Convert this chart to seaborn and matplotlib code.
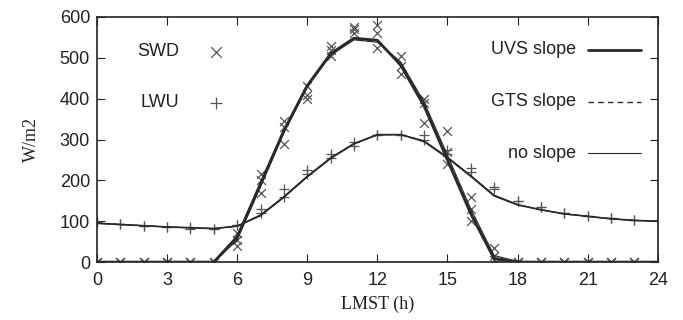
import numpy as np
import pandas as pd
import matplotlib
matplotlib.use("Agg")
import matplotlib.pyplot as plt
import seaborn as sns

hours = list(range(25))

# model curves (W/m2), one value per hour 0..24
swd_uvs = [0, 0, 0, 0, 0, 0, 62, 192, 322, 432, 510, 548, 543, 482, 382, 250, 118, 8, 0, 0, 0, 0, 0, 0, 0]
swd_gts = [0, 0, 0, 0, 0, 0, 58, 188, 318, 430, 508, 546, 540, 486, 388, 256, 124, 12, 0, 0, 0, 0, 0, 0, 0]
swd_none = [0, 0, 0, 0, 0, 0, 54, 184, 316, 428, 506, 544, 538, 490, 392, 262, 130, 16, 2, 0, 0, 0, 0, 0, 0]
lwu_uvs = [95, 92, 89, 86, 84, 82, 88, 115, 160, 210, 255, 290, 312, 312, 295, 255, 210, 162, 140, 128, 118, 112, 106, 102, 100]
lwu_gts = [95, 92, 89, 86, 84, 82, 88, 114, 159, 209, 254, 290, 312, 312, 296, 256, 211, 163, 140, 128, 118, 112, 106, 102, 100]
lwu_none = [95, 92, 89, 86, 84, 82, 88, 113, 158, 208, 253, 289, 311, 312, 297, 257, 212, 164, 141, 128, 118, 112, 106, 102, 100]

# observed points, hour 0..23, three sets
obs_hours = list(range(24))
swd_obs_a = [0, 0, 0, 0, 0, 0, 40, 170, 290, 400, 505, 560, 525, 460, 340, 240, 100, 5, 0, 0, 0, 0, 0, 0]
swd_obs_b = [0, 0, 0, 0, 0, 0, 55, 200, 330, 410, 520, 570, 560, 480, 390, 270, 130, 15, 0, 0, 0, 0, 0, 0]
swd_obs_c = [0, 0, 0, 0, 0, 0, 70, 215, 345, 430, 530, 575, 580, 505, 400, 320, 160, 35, 0, 0, 0, 0, 0, 0]
lwu_obs_a = [97, 92, 88, 86, 82, 80, 90, 120, 160, 215, 255, 285, 312, 312, 300, 265, 220, 180, 150, 135, 120, 112, 108, 103]
lwu_obs_b = [97, 92, 88, 86, 85, 80, 90, 130, 180, 225, 265, 295, 312, 312, 310, 275, 230, 185, 150, 135, 120, 112, 108, 103]

x_ticks = [0, 3, 6, 9, 12, 15, 18, 21, 24]
y_ticks = [0, 100, 200, 300, 400, 500, 600]

sns.set_style("ticks")
plt.rcParams['font.family'] = ['Liberation Sans', 'DejaVu Sans']

fig = plt.figure(figsize=(6.83, 3.2), dpi=100)
ax = fig.add_axes([0.142, 0.181, 0.821, 0.766])

line_color = "#2a2a2a"
mark_color = "#555555"

# observations
for vals in [swd_obs_a, swd_obs_b, swd_obs_c]:
    sns.scatterplot(x=obs_hours, y=vals, marker="x", s=40, color=mark_color,
                    linewidth=0.9, ax=ax, zorder=2)
for vals in [lwu_obs_a, lwu_obs_b]:
    sns.scatterplot(x=obs_hours, y=vals, marker="+", s=60, color=mark_color,
                    linewidth=0.9, ax=ax, zorder=2)

# model curves
sns.lineplot(x=hours, y=swd_uvs, color=line_color, linewidth=2.0, ax=ax, zorder=3)
sns.lineplot(x=hours, y=swd_gts, color=line_color, linewidth=1.0, linestyle=(0, (4, 3)), ax=ax, zorder=3)
sns.lineplot(x=hours, y=swd_none, color=line_color, linewidth=0.8, ax=ax, zorder=3)
sns.lineplot(x=hours, y=lwu_uvs, color=line_color, linewidth=1.2, ax=ax, zorder=3)
sns.lineplot(x=hours, y=lwu_gts, color=line_color, linewidth=0.8, linestyle=(0, (4, 3)), ax=ax, zorder=3)
sns.lineplot(x=hours, y=lwu_none, color=line_color, linewidth=0.8, ax=ax, zorder=3)

# in-axes key, left
ax.text(3.5, 515, "SWD", ha="right", va="center", fontsize=13, color="#222222")
ax.scatter([5.1], [515], marker="x", s=60, color=mark_color, linewidth=0.9)
ax.text(3.5, 390, "LWU", ha="right", va="center", fontsize=13, color="#222222")
ax.scatter([5.1], [390], marker="+", s=80, color=mark_color, linewidth=0.9)

# in-axes key, right
for ypos, label, lw, ls in [(520, "UVS slope", 2.0, "-"),
                            (392, "GTS slope", 1.0, (0, (4, 3))),
                            (267, "no slope", 0.8, "-")]:
    ax.text(20.5, ypos, label, ha="right", va="center", fontsize=13, color="#222222")
    ax.plot([21.0, 23.3], [ypos, ypos], color=line_color, linewidth=lw, linestyle=ls)

ax.set_xlim(0, 24)
ax.set_ylim(0, 600)
ax.set_xticks(x_ticks)
ax.set_yticks(y_ticks)
ax.tick_params(direction="in", top=True, right=True, length=6, labelsize=13,
               colors="#222222", width=0.8)
ax.tick_params(axis="x", pad=7)
ax.tick_params(axis="y", pad=5)
for sp in ax.spines.values():
    sp.set_linewidth(1.2)
    sp.set_color("#222222")

ax.set_xlabel("LMST (h)", fontsize=13, family="Liberation Serif", color="#222222", labelpad=5)
ax.set_ylabel("W/m2", fontsize=13, family="Liberation Serif", color="#222222", labelpad=14)

plt.savefig("out.png", dpi=100)
